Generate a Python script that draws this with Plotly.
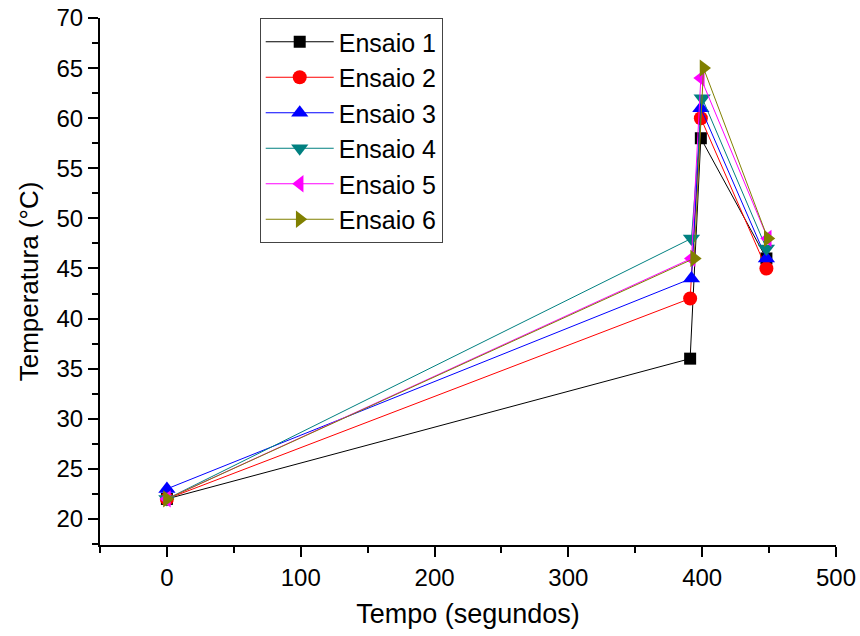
import plotly.graph_objects as go

series_names = ["Ensaio 1", "Ensaio 2", "Ensaio 3", "Ensaio 4", "Ensaio 5", "Ensaio 6"]
x_e1 = [0, 391, 399, 448]
x_e2 = [0, 391, 399, 448]
x_e3 = [0, 392, 399, 448]
x_e4 = [0, 392, 400, 448]
x_e5 = [0, 392, 399, 449]
x_e6 = [0, 394, 401, 449]
y_e1 = [22, 36, 58, 46]
y_e2 = [22, 42, 60, 45]
y_e3 = [23, 44, 61, 46]
y_e4 = [22, 48, 62, 47]
y_e5 = [22, 46, 64, 48]
y_e6 = [22, 46, 65, 48]

xs = [x_e1, x_e2, x_e3, x_e4, x_e5, x_e6]
ys = [y_e1, y_e2, y_e3, y_e4, y_e5, y_e6]
colors = ["#000000", "#FF0000", "#0000FF", "#008080", "#FF00FF", "#808000"]
symbols = ["square", "circle", "triangle-up", "triangle-down", "triangle-left", "triangle-right"]
sizes = [12, 14, 15, 15, 15, 15]

fig = go.Figure()
for name, x, y, c, s, sz in zip(series_names, xs, ys, colors, symbols, sizes):
    fig.add_trace(go.Scatter(
        x=x, y=y, name=name, mode="lines+markers",
        line=dict(color=c, width=1),
        marker=dict(symbol=s, size=sz, color=c, line=dict(width=0)),
    ))

font_family = "Liberation Sans, Arial, sans-serif"
fig.update_layout(
    width=860, height=636,
    margin=dict(l=100, r=24, t=18, b=91),
    paper_bgcolor="white", plot_bgcolor="white",
    font=dict(family=font_family, color="black"),
    showlegend=True,
    legend=dict(
        x=0.217, y=1.0, xanchor="left", yanchor="top",
        bordercolor="#444444", borderwidth=1, bgcolor="white",
        font=dict(size=25, family=font_family),
        itemwidth=68, tracegroupgap=0,
    ),
    xaxis=dict(
        range=[-50, 500], tick0=0, dtick=100, automargin=False,
        ticklabeloverflow="allow",
        showgrid=False, zeroline=False,
        showline=True, linecolor="black", linewidth=2,
        ticks="outside", ticklen=10, tickwidth=2, tickcolor="black",
        tickfont=dict(size=24),
        minor=dict(dtick=50, tick0=0, ticks="outside", ticklen=6, tickwidth=2, tickcolor="black", showgrid=False),
        title=dict(text="Tempo (segundos)", font=dict(size=27), standoff=14),
    ),
    yaxis=dict(
        range=[17.4, 70], tick0=0, dtick=5, automargin=False,
        ticklabeloverflow="allow",
        showgrid=False, zeroline=False,
        showline=True, linecolor="black", linewidth=2,
        ticks="outside", ticklen=10, tickwidth=2, tickcolor="black",
        tickfont=dict(size=24),
        minor=dict(dtick=2.5, tick0=0, ticks="outside", ticklen=6, tickwidth=2, tickcolor="black", showgrid=False),
        title=dict(text="Temperatura (°C)", font=dict(size=26), standoff=10),
    ),
)

fig.write_html(
    "out.html",
    config={"displayModeBar": False},
    post_script="document.body.style.margin='0';document.body.style.overflow='hidden';",
)
